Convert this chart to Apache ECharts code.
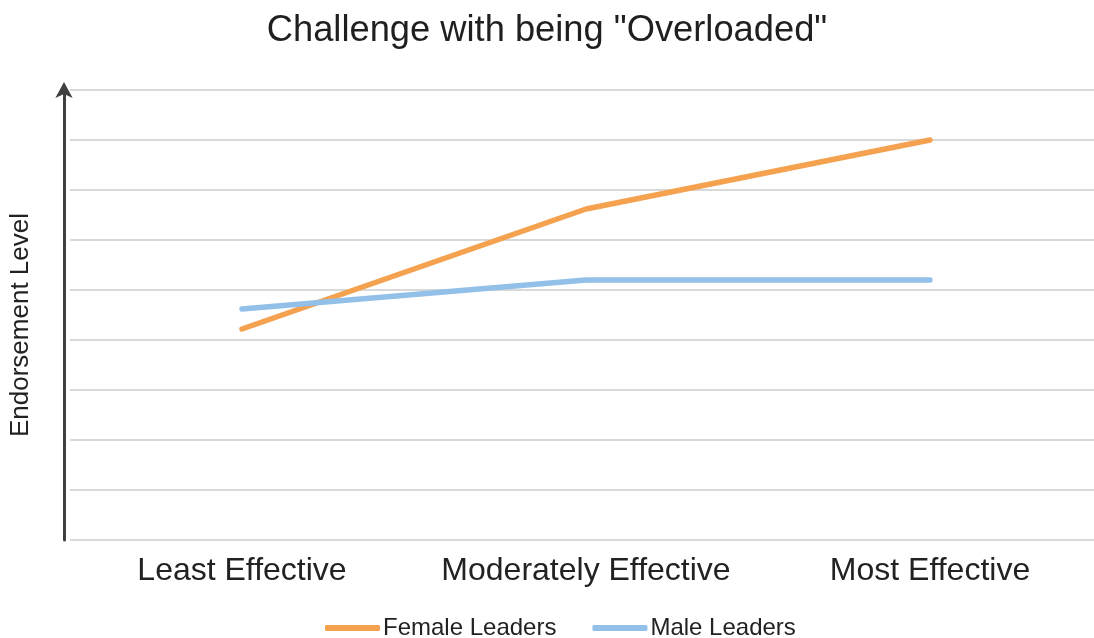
<!DOCTYPE html>
<html><head><meta charset="utf-8">
<script src="https://cdn.jsdelivr.net/npm/echarts@6/dist/echarts.min.js"></script>
<style>html,body{margin:0;padding:0;background:#fff}#c{width:1094px;height:638px}</style>
</head><body><div id="c"></div>
<script>
var categories = ['Least Effective', 'Moderately Effective', 'Most Effective'];
var femaleLeaders = [2.11, 3.31, 4.0];
var maleLeaders = [2.31, 2.6, 2.6];
var seriesNames = ['Female Leaders', 'Male Leaders'];
var FONT = '"Liberation Sans", Arial, Helvetica, sans-serif';
var chart = echarts.init(document.getElementById('c'));
chart.setOption({
  backgroundColor: '#fff',
  animation: false,
  title: {
    text: 'Challenge with being "Overloaded"',
    left: 'center', top: 8,
    textStyle: {fontFamily: FONT, fontSize: 36.3, fontWeight: 'normal', color: '#1f1f1f'}
  },
  legend: {
    top: 611, left: 320, itemWidth: 55, itemHeight: 6, itemGap: 36,
    icon: 'roundRect',
    textStyle: {fontFamily: FONT, fontSize: 24, color: '#222', padding: [0,0,0,-2]},
    data: seriesNames
  },
  grid: {left: 70, top: 90, right: -8, height: 450, containLabel: false, outerBoundsMode: 'none'},
  xAxis: {
    type: 'category', data: categories, boundaryGap: true,
    axisLine: {show: false}, axisTick: {show: false},
    axisLabel: {interval: 0, fontFamily: FONT, fontSize: 32, color: '#222', margin: 15}
  },
  yAxis: {
    type: 'value', min: 0, max: 4.5, interval: 0.5, offset: 6,
    name: 'Endorsement Level', nameLocation: 'middle', nameGap: 30,
    nameTextStyle: {fontFamily: FONT, fontSize: 26, color: '#222', padding: [0, 20, 0, 0]},
    axisLabel: {show: false}, axisTick: {show: false},
    axisLine: {show: true, lineStyle: {color: '#404040', width: 3},
      symbol: ['none', 'arrow'], symbolSize: [13, 16], symbolOffset: [0, 8]},
    splitLine: {lineStyle: {color: '#d9d9d9', width: 2}}
  },
  series: [
    {name: seriesNames[0], type: 'line', data: femaleLeaders, symbol: 'none',
     lineStyle: {color: '#F4A150', width: 5.5, cap: 'round', join: 'round'}, itemStyle: {color: '#F4A150'}},
    {name: seriesNames[1], type: 'line', data: maleLeaders, symbol: 'none',
     lineStyle: {color: '#93C0E8', width: 5.5, cap: 'round', join: 'round'}, itemStyle: {color: '#93C0E8'}}
  ]
});
</script></body></html>
